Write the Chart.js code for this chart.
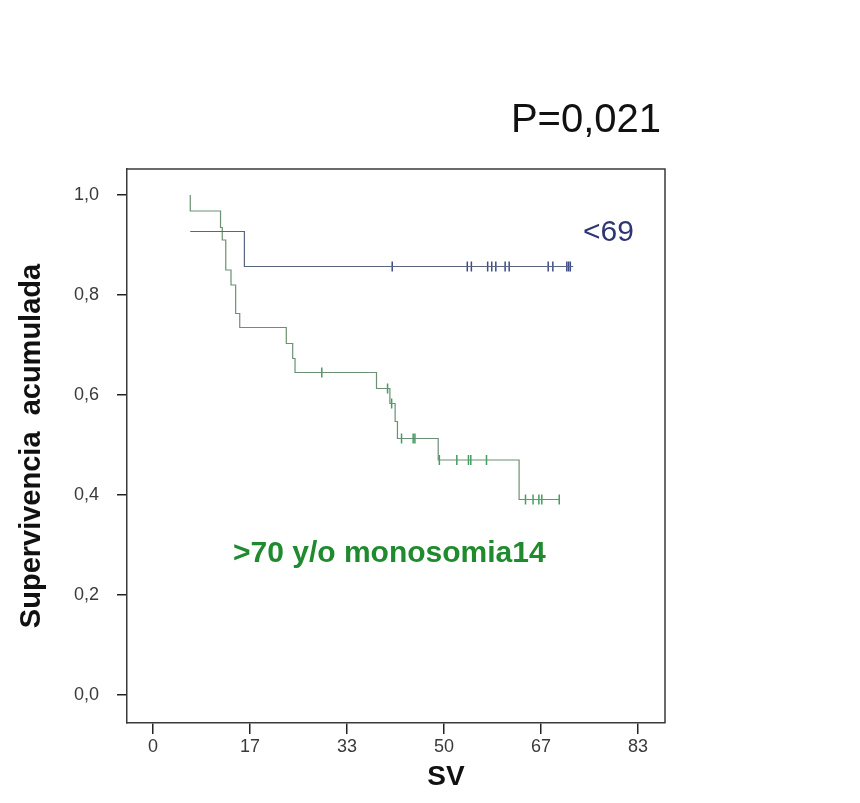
<!DOCTYPE html>
<html>
<head>
<meta charset="utf-8">
<script src="https://cdn.jsdelivr.net/npm/chart.js@4"></script>
<style>
  html, body { margin: 0; padding: 0; background: #fff; }
  canvas { display: block; }
</style>
</head>
<body>
<canvas id="km" width="860" height="803"></canvas>
<script>
// survival steps (time in months, cumulative survival)
const menos69Tiempos = [6.4, 15.7, 72.2];
const menos69Superv = [0.927, 0.857, 0.857];
const menos69Censura = [41.1, 54.0, 54.7, 57.5, 58.2, 58.9, 60.5, 61.2, 67.9, 68.7, 71.1, 71.4, 71.7];

const mas70Tiempos = [6.4, 6.4, 11.6, 11.9, 12.5, 13.4, 14.2, 14.9, 22.9, 24.0, 24.4, 38.4, 40.7, 41.6, 42.0, 49.0, 62.9, 69.8];
const mas70Superv = [1.0, 0.968, 0.935, 0.91, 0.85, 0.82, 0.763, 0.735, 0.703, 0.673, 0.645, 0.613, 0.583, 0.547, 0.513, 0.47, 0.391, 0.391];
const mas70Censura = [29.0, 40.3, 41.0, 42.7, 44.7, 45.0, 49.2, 52.2, 54.2, 54.6, 57.3, 64.0, 65.3, 66.3, 66.8, 69.8];

const xTicks = [0, 16.667, 33.333, 50, 66.667, 83.333];
const xTickLabels = ["0", "17", "33", "50", "67", "83"];
const yTicks = [0, 0.2, 0.4, 0.6, 0.8, 1.0];
const yTickLabels = ["0,0", "0,2", "0,4", "0,6", "0,8", "1,0"];

const azulLinea = "#5a6380";
const azulMarca = "#3d4a8c";
const verdeLinea = "#6c9074";
const verdeMarca = "#3f9f5f";

function nivel(tiempos, superv, t) {
  let s = superv[0];
  for (let i = 0; i < tiempos.length; i++) {
    if (tiempos[i] <= t) s = superv[i];
  }
  return s;
}

function puntos(tiempos, superv) {
  return tiempos.map((t, i) => ({ x: t, y: superv[i] }));
}

function censuras(lista, tiempos, superv) {
  return lista.map((t) => ({ x: t, y: nivel(tiempos, superv, t) }));
}

// box round the plot and the loose labels
const extras = {
  id: "extras",
  afterDraw(chart) {
    const ctx = chart.ctx;
    const a = chart.chartArea;
    ctx.save();
    ctx.strokeStyle = "#3a3a3a";
    ctx.lineWidth = 1.5;
    ctx.beginPath();
    ctx.moveTo(a.left, a.top);
    ctx.lineTo(a.right, a.top);
    ctx.lineTo(a.right, a.bottom);
    ctx.stroke();

    ctx.fillStyle = "#111";
    ctx.font = "40px 'Liberation Sans', Arial, sans-serif";
    ctx.textAlign = "center";
    ctx.textBaseline = "alphabetic";
    ctx.fillText("P=0,021", 586, 132);

    ctx.fillStyle = "#2d3572";
    ctx.font = "30px 'Liberation Sans', Arial, sans-serif";
    ctx.textAlign = "left";
    ctx.fillText("<69", 583, 241);

    ctx.fillStyle = "#1f8a2e";
    ctx.font = "bold 30px 'Liberation Sans', Arial, sans-serif";
    ctx.fillText(">70 y/o monosomia14", 233, 562);

    ctx.fillStyle = "#111";
    ctx.font = "bold 28px 'Liberation Sans', Arial, sans-serif";
    ctx.textAlign = "center";
    ctx.fillText("SV", 446, 785);
    ctx.restore();
  }
};

const tickFont = { family: "'Liberation Sans Narrow', 'Arial Narrow', 'Liberation Sans', sans-serif", size: 18 };

new Chart(document.getElementById("km"), {
  type: "line",
  data: {
    datasets: [
      {
        label: "<69",
        data: puntos(menos69Tiempos, menos69Superv),
        borderColor: azulLinea,
        borderWidth: 1.2,
        stepped: true,
        pointRadius: 0,
        fill: false
      },
      {
        label: ">70 y/o monosomia14",
        data: puntos(mas70Tiempos, mas70Superv),
        borderColor: verdeLinea,
        borderWidth: 1.2,
        stepped: true,
        pointRadius: 0,
        fill: false
      },
      {
        label: "censura <69",
        type: "scatter",
        data: censuras(menos69Censura, menos69Tiempos, menos69Superv),
        showLine: false,
        pointStyle: "line",
        rotation: 90,
        pointRadius: 5,
        borderColor: azulMarca,
        borderWidth: 1.5
      },
      {
        label: "censura >70",
        type: "scatter",
        data: censuras(mas70Censura, mas70Tiempos, mas70Superv),
        showLine: false,
        pointStyle: "line",
        rotation: 90,
        pointRadius: 5,
        borderColor: verdeMarca,
        borderWidth: 1.5
      }
    ]
  },
  options: {
    responsive: false,
    animation: false,
    layout: { padding: { left: 0, top: 169, right: 195, bottom: 0 } },
    plugins: {
      legend: { display: false },
      tooltip: { enabled: false }
    },
    scales: {
      x: {
        type: "linear",
        min: -4.47,
        max: 87.97,
        afterBuildTicks: (scale) => {
          scale.ticks = xTicks.map((v) => ({ value: v }));
        },
        afterFit: (scale) => {
          scale.height = 80;
        },
        ticks: {
          color: "#3a3a3a",
          font: tickFont,
          padding: 2,
          maxRotation: 0,
          callback: (v, i) => xTickLabels[i]
        },
        grid: { drawOnChartArea: false, drawTicks: true, tickLength: 11, color: "#222", lineWidth: 1.5 },
        border: { display: true, color: "#3a3a3a", width: 1.5 }
      },
      y: {
        type: "linear",
        min: -0.056,
        max: 1.052,
        afterBuildTicks: (scale) => {
          scale.ticks = yTicks.map((v) => ({ value: v }));
        },
        afterFit: (scale) => {
          scale.width = 127;
        },
        ticks: {
          color: "#3a3a3a",
          font: tickFont,
          padding: 18,
          callback: (v, i) => yTickLabels[i]
        },
        title: {
          display: true,
          text: "Supervivencia  acumulada",
          color: "#111",
          font: { family: "'Liberation Sans', Arial, sans-serif", size: 29, weight: "bold" },
          padding: { top: 15, bottom: 0 }
        },
        grid: { drawOnChartArea: false, drawTicks: true, tickLength: 10, color: "#222", lineWidth: 1.5 },
        border: { display: true, color: "#3a3a3a", width: 1.5 }
      }
    }
  },
  plugins: [extras]
});
</script>
</body>
</html>
